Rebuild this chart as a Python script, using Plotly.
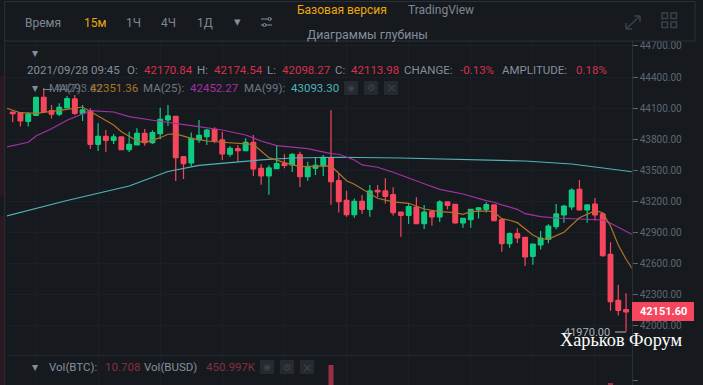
import plotly.graph_objects as go

W, H = 703, 385
candle_index = list(range(80))
opens = [44063,44057,43973,44031,44205,44076,44041,44102,44189,44050,44076,43751,43828,43790,43822,43700,43745,43857,43767,43854,
         43986,44021,43632,43571,43793,43825,43896,43793,43655,43709,43690,43770,43520,43446,43516,43565,43552,43651,43439,43520,
         43542,43622,43400,43211,43072,43201,43124,43307,43301,43265,43098,43066,43146,42986,43101,43050,43195,43172,42992,43024,
         43117,43124,43166,43024,42793,42889,42854,42670,42780,42834,42957,43069,43146,43317,43117,43175,43079,42690,42246,42156]
highs = [44063,44057,44060,44205,44295,44131,44147,44218,44227,44131,44099,43954,43890,43851,43822,43873,43906,43899,43886,44105,
         44131,44021,43632,43864,43986,43899,43915,43873,43735,43745,43809,43841,43558,43548,43745,43655,43664,43680,43584,43629,
         43648,44079,43471,43304,43227,43262,43359,43359,43423,43336,43098,43175,43240,43166,43117,43211,43195,43172,43037,43130,
         43146,43191,43169,43031,42899,42941,42857,42789,42915,42979,43175,43166,43327,43407,43166,43233,43092,42805,42397,42313]
lows = [43963,43922,43922,44031,44066,43999,44025,44102,44034,43976,43706,43687,43677,43754,43696,43677,43745,43738,43754,43799,
        43928,43397,43417,43539,43767,43745,43761,43600,43632,43584,43690,43446,43362,43265,43516,43520,43484,43339,43400,43455,
        43446,43169,43092,43053,43043,43079,43053,43240,43179,43063,42860,42982,42982,42934,42966,43002,43121,42985,42947,42947,
        43034,43092,43011,42715,42754,42799,42577,42590,42735,42796,42931,42995,43117,43111,42995,43015,42667,42146,42098,41945]
closes = [44047,43976,44044,44205,44066,44041,44108,44192,44050,44083,43751,43828,43790,43822,43700,43751,43857,43767,43864,43992,
          44025,43622,43565,43809,43838,43889,43783,43658,43712,43690,43770,43513,43446,43523,43565,43548,43655,43439,43529,43548,
          43626,43391,43198,43072,43201,43124,43301,43291,43249,43092,43066,43150,42986,43098,43050,43195,43162,42992,43037,43124,
          43137,43169,43015,42793,42889,42847,42664,42789,42847,42963,43079,43156,43310,43117,43166,43069,42677,42233,42149,42133]

ma7_idx = [-1,1,3,5,7,9,10,12,13,14,16,17,19,20,21,23,25,27,29,31,33,35,37,39,41,42,43,44,46,47,49,51,53,55,57,58,59,61,62,63,64,65,67,68,69,71,73,75,76,77,78,79,80]
ma7_val = [44105,44056,44050,44066,44089,44111,44066,43976,43938,43873,43786,43767,43815,43848,43851,43809,43783,43771,43764,43751,43622,43574,43535,43535,43542,43472,43400,43365,43279,43230,43195,43182,43127,43101,43091,43076,43101,43108,43098,43034,43018,42995,42876,42840,42837,42902,43043,43111,43091,42963,42780,42642,42529]
ma25_idx = [-1,2,3,5,7,9,10,13,15,18,20,23,27,30,32,34,38,41,42,44,45,47,49,51,53,55,58,61,62,63,65,66,68,70,73,76,77,79,80]
ma25_val = [43722,43771,43832,43902,43983,44050,44076,44063,44018,43983,43964,43931,43889,43841,43783,43738,43709,43661,43655,43600,43552,43530,43481,43423,43371,43317,43272,43207,43192,43166,43124,43082,43053,43040,43031,43021,42989,42908,42873]
ma99_idx = [-1,7,15,20,24,28,32,36,42,50,60,66,72,76,80]
ma99_val = [43055,43209,43349,43489,43547,43576,43600,43619,43626,43619,43605,43590,43561,43523,43484]

vol_idx = [41, 77]
vol_val = [640, 352]

price_ticks = [42000,42300,42600,42900,43200,43500,43800,44100,44400,44700]
price_tick_labels = ["42000.00","42300.00","42600.00","42900.00","43200.00","43500.00","43800.00","44100.00","44400.00","44700.00"]
grid_idx = [3,11,19,27,35,43,51,59,67,75]

BG = "#161a1e"; GRID = "#1c2026"; GREEN = "#0ecb81"; RED = "#f6465d"
GRAY = "#848e9c"; DIM = "#5e6673"; GOLD = "#f0a70b"

def px(x): return x / W
def py(y): return 1 - y / H

fig = go.Figure()
# wide candle bodies, under the candlestick's wicks
fig.add_trace(go.Bar(x=candle_index, base=[min(o, c) for o, c in zip(opens, closes)],
    y=[abs(c - o) for o, c in zip(opens, closes)], width=0.76,
    marker=dict(color=[GREEN if c >= o else RED for o, c in zip(opens, closes)], line_width=0),
    xaxis="x", yaxis="y", showlegend=False))
fig.add_trace(go.Candlestick(x=candle_index, open=opens, high=highs, low=lows, close=closes,
    increasing=dict(line=dict(color=GREEN, width=1.2), fillcolor=GREEN),
    decreasing=dict(line=dict(color=RED, width=1.2), fillcolor=RED),
    whiskerwidth=0, showlegend=False, xaxis="x", yaxis="y"))
fig.add_trace(go.Scatter(x=ma99_idx, y=ma99_val, mode="lines", line=dict(color="#4fb3b8", width=1.2), xaxis="x", yaxis="y", showlegend=False))
fig.add_trace(go.Scatter(x=ma25_idx, y=ma25_val, mode="lines", line=dict(color="#a530a5", width=1.2), xaxis="x", yaxis="y", showlegend=False))
fig.add_trace(go.Scatter(x=ma7_idx, y=ma7_val, mode="lines", line=dict(color="#ad7428", width=1.2), xaxis="x", yaxis="y", showlegend=False))
fig.add_trace(go.Bar(x=vol_idx, y=vol_val, width=0.65, marker=dict(color="#9a3045", line_width=0), xaxis="x2", yaxis="y2", showlegend=False))

shapes = []
annots = []
def text(x, y, s, color=GRAY, size=11.5, anchor="left", family="Roboto, Noto Sans, sans-serif", yanchor="middle"):
    annots.append(dict(x=px(x), y=py(y), xref="paper", yref="paper", text=s, showarrow=False,
                       xanchor=anchor, yanchor=yanchor, align="left", xshift=0, yshift=0, borderpad=0,
                       font=dict(color=color, size=size, family=family)))
def line(x0, y0, x1, y1, color="#2b3037", width=1):
    shapes.append(dict(type="line", xref="paper", yref="paper", x0=px(x0), y0=py(y0), x1=px(x1), y1=py(y1),
                       line=dict(color=color, width=width)))
def rect(x0, y0, x1, y1, fill, color=None, width=0, opacity=1, layer="above"):
    shapes.append(dict(type="rect", xref="paper", yref="paper", x0=px(x0), y0=py(y0), x1=px(x1), y1=py(y1),
                       fillcolor=fill, opacity=opacity, layer=layer, line=dict(color=color or fill, width=width)))

# frame
line(4.7, 1.5, 695, 1.5); line(4.7, 1.5, 4.7, 385); line(695, 1.5, 695, 41); line(4.7, 41, 695, 41)
rect(0, 76, 4, 196, "#2c1820"); rect(0, 216, 4, 385, "#2c1820")

# toolbar
text(24, 23, "Время", "#7d8794", 12)
text(83, 23, "15м", GOLD, 12)
text(125, 23, "1Ч", "#7d8794", 12)
text(160, 23, "4Ч", "#7d8794", 12)
text(196, 23, "1Д", "#7d8794", 12)
text(237, 21, "▾", "#848e9c", 13, "center", "DejaVu Sans")
text(296, 10.5, "Базовая версия", GOLD, 12)
text(407, 10.5, "TradingView", "#7d8794", 12)
text(306, 35, "Диаграммы глубины", "#848e9c", 12.3)
# settings icon
line(261, 19, 272, 19, "#848e9c"); line(261, 25, 272, 25, "#848e9c")
shapes.append(dict(type="circle", xref="paper", yref="paper", x0=px(268), x1=px(271), y0=py(17.5), y1=py(20.5), fillcolor=BG, line=dict(color="#848e9c", width=1)))
shapes.append(dict(type="circle", xref="paper", yref="paper", x0=px(263), x1=px(266), y0=py(23.5), y1=py(26.5), fillcolor=BG, line=dict(color="#848e9c", width=1)))
# expand icon
line(626, 29, 640, 16, "#39414c", 1.5); line(634, 16, 640, 16, "#39414c", 1.5); line(640, 16, 640, 22, "#39414c", 1.5)
line(626, 29, 632, 29, "#39414c", 1.5); line(626, 23, 626, 29, "#39414c", 1.5)
# grid icon
for x0 in (662, 671):
    for y0 in (13, 22):
        rect(x0, y0, x0 + 5.5, y0 + 5.5, BG, "#39414c", 1.5)

# OHLC row
text(35, 53, "▾", "#848e9c", 12, "center", "DejaVu Sans")
RV = "#d6304c"
row = [(26,"2021/09/28 09:45",GRAY),(126,"O:",GRAY),(143,"42170.84",RV),(196,"H:",GRAY),(213,"42174.54",RV),
       (266,"L:",GRAY),(281,"42098.27",RV),(334,"C:",GRAY),(350,"42113.98",RV),(403,"CHANGE:",GRAY),(459,"-0.13%",RV),
       (501,"AMPLITUDE:",GRAY),(575,"0.18%",RV)]
for x, s, c in row:
    text(x, 70, s, c)

# MA row
text(35, 88, "▾", "#848e9c", 12, "center", "DejaVu Sans")
line(43, 89.5, 52, 89.5, "#7b838f")
text(55, 89, "44293.62", "#5f6772", 11)
row2 = [(48,"MA(7):","#6f7783"),(89,"42351.36","#ad7428"),(142,"MA(25):","#6f7783"),(189,"42452.27","#a530a5"),
        (243,"MA(99):","#6f7783"),(290,"43093.30","#4fb3b8")]
for x, s, c in row2:
    text(x, 88, s, c)
for x0 in (344, 364, 384):
    rect(x0, 81, x0 + 14, 95, "#262a30")
text(351, 88, "◉", "#3b424c", 9, "center", "DejaVu Sans")
text(371, 88, "⚙", "#3b424c", 10, "center", "DejaVu Sans")
text(391, 88, "×", "#3b424c", 13, "center", "DejaVu Sans")

# volume row
text(35, 367, "▾", "#848e9c", 12, "center", "DejaVu Sans")
RD = "#8a2d3e"
for x, s, c in [(48,"Vol(BTC):",GRAY),(104,"10.708",RD),(143,"Vol(BUSD)",GRAY),(205,"450.997K",RD)]:
    text(x, 367, s, c)
for x0 in (260, 280, 300):
    rect(x0, 360, x0 + 14, 374, "#262a30")
text(267, 367, "◉", "#3b424c", 9, "center", "DejaVu Sans")
text(287, 367, "⚙", "#3b424c", 10, "center", "DejaVu Sans")
text(307, 367, "×", "#3b424c", 13, "center", "DejaVu Sans")

# last price tag
rect(632, 302, 694, 321, RED)
text(663, 311.5, "<b>42151.60</b>", "#ffffff", 11, "center")

# min label
text(611, 332, "41970.00", "#aab1bb", 11, "right")
line(615, 332, 626, 332, "#aab1bb")

# watermark
text(559, 340, "Харьков Форум", "#ffffff", 18.3, "left", "Liberation Serif")

fig.update_layout(
    width=W, height=H, autosize=False, margin=dict(l=0, r=0, t=0, b=0),
    paper_bgcolor=BG, plot_bgcolor=BG, showlegend=False, hovermode=False,
    shapes=shapes, annotations=annots, barmode="overlay",
    xaxis=dict(domain=[px(7), px(631.7)], range=[-0.734, 79.73], rangeslider=dict(visible=False),
               tickvals=grid_idx, showticklabels=False, ticks="", showgrid=True, gridcolor=GRID, gridwidth=1,
               zeroline=False, anchor="y", showline=True, linecolor="#262a30"),
    yaxis=dict(domain=[py(355), py(41)], range=[41718, 44748], side="right", tickvals=price_ticks, ticktext=price_tick_labels,
               ticks="outside", ticklen=5, tickcolor=DIM, tickfont=dict(color=DIM, size=10, family="Roboto"),
               showgrid=True, gridcolor=GRID, zeroline=False, showline=True, linecolor="#2b3037", anchor="x"),
    xaxis2=dict(domain=[px(7), px(631.7)], range=[-0.734, 79.73], tickvals=grid_idx, showticklabels=False, ticks="",
                showgrid=True, gridcolor=GRID, zeroline=False, anchor="y2"),
    yaxis2=dict(domain=[0, py(355)], range=[320, 800], side="right", tickvals=[400], ticktext=["400.00"],
                ticks="outside", ticklen=5, tickcolor=DIM, tickfont=dict(color=DIM, size=10, family="Roboto"),
                showgrid=False, zeroline=False, showline=True, linecolor="#2b3037", anchor="x2"),
)
fig.write_html("out.html", config={"displayModeBar": False},
               post_script="document.body.style.margin='0';document.body.style.background='#161a1e';document.documentElement.style.overflow='hidden';")
